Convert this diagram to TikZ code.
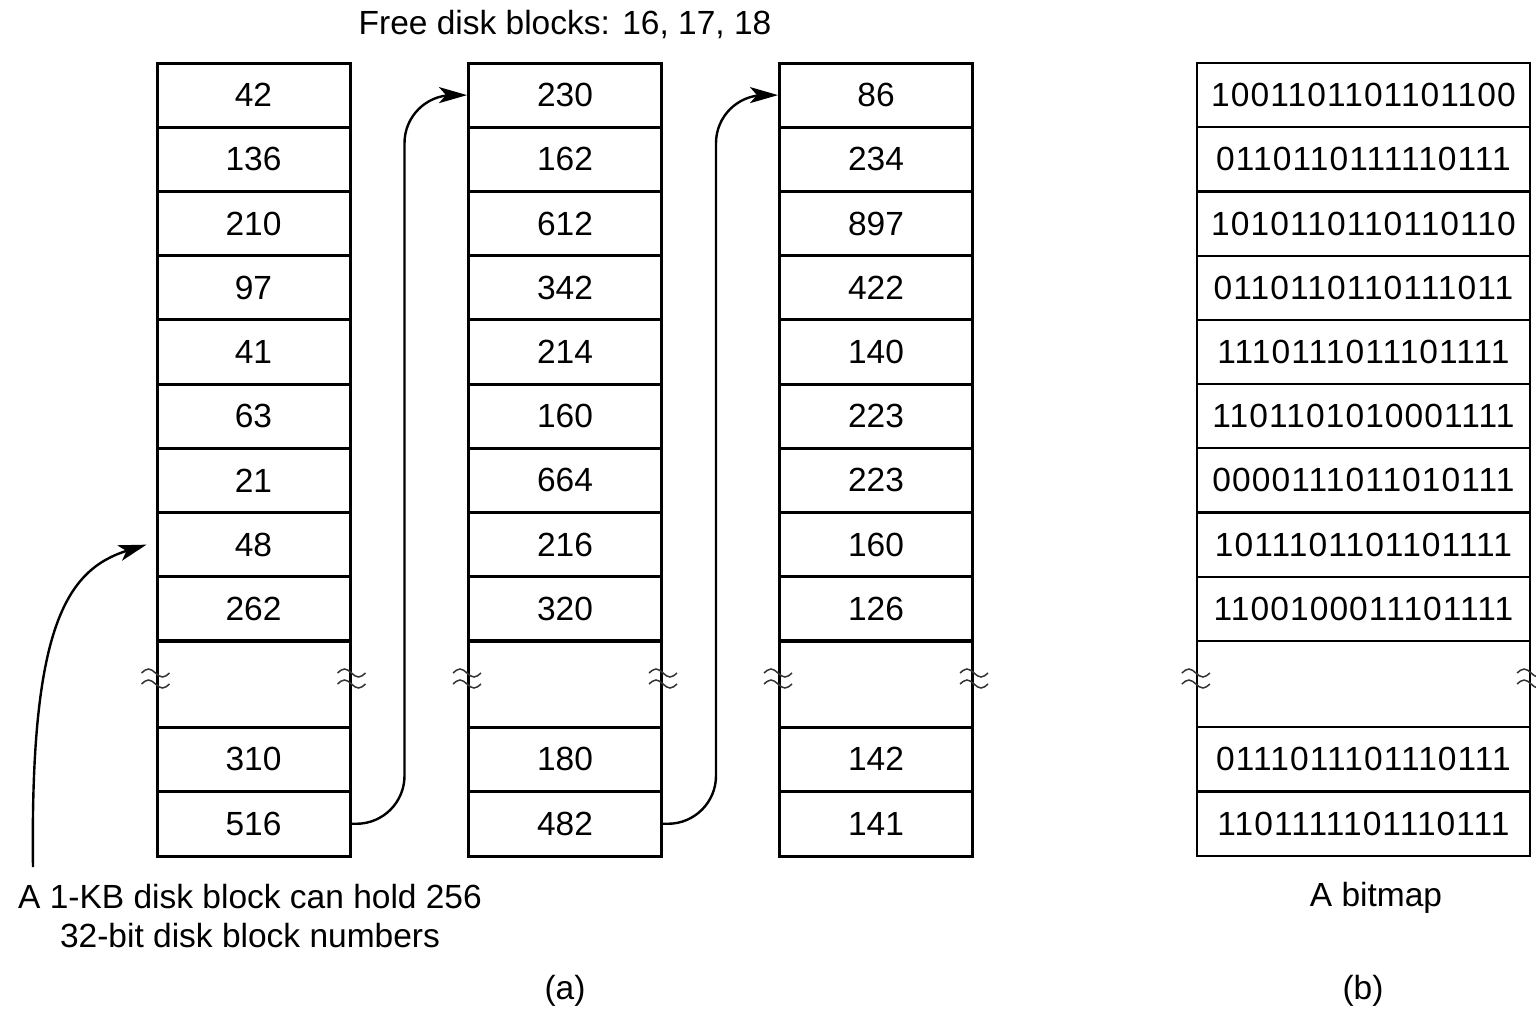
\documentclass[tikz,border=0pt]{standalone}
\usepackage{fontspec}
\setmainfont{Liberation Sans}
\newfontfamily\bitfont[LetterSpace=3.3]{Liberation Sans}
\usetikzlibrary{arrows.meta}
\begin{document}
\begin{tikzpicture}[x=1pt,y=-1pt,
  txt/.style={inner sep=0pt,font=\fontsize{33.5}{39}\selectfont},
  cell/.style={txt,draw,line width=3pt,minimum width=193pt},
  bcell/.style={txt,draw,line width=2.2pt,minimum width=333pt,font=\bitfont\fontsize{33.5}{39}\selectfont},
  conn/.style={line width=2.4pt,-{Stealth[length=28pt,width=16pt,inset=7pt]}},
  wave/.style={line width=1.5pt,black!80}
]
\useasboundingbox (0,0) rectangle (1536,1010);

% three columns of (a)
\foreach \col/\cx/\vals/\la/\lb in {1/253.5/{42,136,210,97,41,63,21,48,262}/310/516,
                                   2/565/{230,162,612,342,214,160,664,216,320}/180/482,
                                   3/876/{86,234,897,422,140,223,223,160,126}/142/141}{
  \foreach \v [count=\i] in \vals {
    \node[cell,minimum height=64.22pt] (c\col r\i) at (\cx,{63+64.22*(\i-0.5)}) {\v};
  }
  \node[cell,minimum height=86pt] (c\col g) at (\cx,684) {};
  \node[cell,minimum height=64.5pt] (c\col r11) at (\cx,759.25) {\la};
  \node[cell,minimum height=64.5pt] (c\col r12) at (\cx,823.75) {\lb};
}

% bitmap (b)
\foreach \v [count=\i] in {1001101101101100,0110110111110111,1010110110110110,0110110110111011,
                           1110111011101111,1101101010001111,0000111011010111,1011101101101111,
                           1100100011101111}{
  \node[bcell,minimum height=64.22pt] (b\i) at (1363.5,{63+64.22*(\i-0.5)}) {\v};
}
\node[bcell,minimum height=86pt] (bg) at (1363.5,684) {};
\node[bcell,minimum height=64.5pt] (b11) at (1363.5,759.25) {0111011101110111};
\node[bcell,minimum height=64.5pt] (b12) at (1363.5,823.75) {1101111101110111};

% break marks
\foreach \n in {c1g,c2g,c3g,bg}{
  \foreach \a in {west,east}{
    \foreach \dy in {-11,0}{
      \draw[wave] ([shift={(-14,\dy)}]\n.\a) sin ++(7,-4) cos ++(7,4) sin ++(7,4) cos ++(7,-4);
    }
  }
}

% connectors between blocks
\draw[conn,rounded corners=48pt] (c1r12.east) -| ([xshift=53pt]c1r1.east) -- (c2r1.west);
\draw[conn,rounded corners=48pt] (c2r12.east) -| ([xshift=53pt]c2r1.east) -- (c3r1.west);

% labels
\node[txt] (free) at (565,25) {Free disk blocks: 16, 17, 18};
\node[txt,align=center] (note) at (250,916) {A 1-KB disk block can hold 256\\32-bit disk block numbers};
\node[txt] (capa) at (565,991) {(a)};
\node[txt] (bmp) at (1376,898) {A bitmap};
\node[txt] (capb) at (1363,991) {(b)};

\coordinate (src) at (33,867);
\coordinate (tip) at ([xshift=-9pt]c1r8.west);
\draw[conn] (src) .. controls (30,630) and (65,570) .. (tip);
\end{tikzpicture}
\end{document}
